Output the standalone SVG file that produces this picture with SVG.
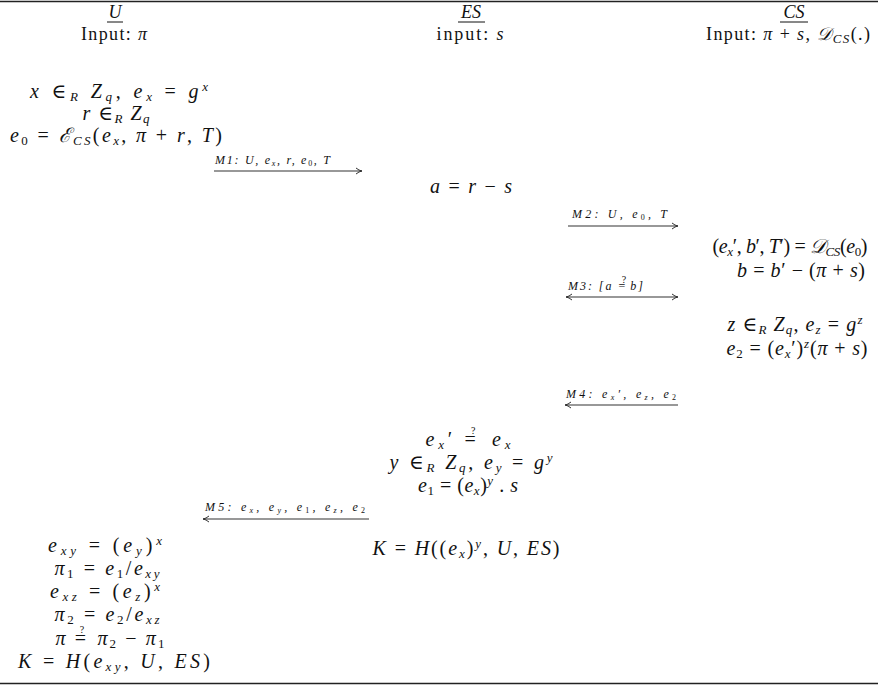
<svg xmlns="http://www.w3.org/2000/svg" width="878" height="692" viewBox="0 0 878 692">
<defs>
<style>
text { font-family: "Liberation Serif", "DejaVu Serif", serif; fill: #111; }
.m { font-size: 20px; font-style: italic; text-anchor: middle; }
.h { font-size: 18px; text-anchor: middle; }
.lab { font-size: 12px; font-style: italic; }
.n { font-style: normal; }
.s { font-size: 13px; }
.ss { font-size: 8px; }
.q { font-size: 10px; font-style: normal; }
.rule { stroke: #222; stroke-width: 1.6; }
.arr { stroke: #333; stroke-width: 1.2; fill: none; }
</style>
<marker id="ah" markerWidth="8" markerHeight="8" refX="7" refY="4" orient="auto" markerUnits="userSpaceOnUse">
<path d="M1,1 Q4,3.5 7,4 Q4,4.5 1,7" fill="none" stroke="#333" stroke-width="1"/>
</marker>
<marker id="ahs" markerWidth="8" markerHeight="8" refX="1" refY="4" orient="auto" markerUnits="userSpaceOnUse">
<path d="M7,1 Q4,3.5 1,4 Q4,4.5 7,7" fill="none" stroke="#333" stroke-width="1"/>
</marker>
</defs>
<rect width="878" height="692" fill="#fff"/>
<line class="rule" x1="0" y1="1.5" x2="878" y2="1.5"/>
<line class="rule" x1="0" y1="683.5" x2="878" y2="683.5"/>

<g id="hdr-U">
<text class="h" x="115" y="18" font-style="italic">U</text>
<line x1="107" y1="22" x2="123" y2="22" stroke="#111" stroke-width="1"/>
<text class="h" x="114" y="40" textLength="66" lengthAdjust="spacing">Input: <tspan font-style="italic">π</tspan></text>
</g>
<g id="hdr-ES">
<text class="h" x="471" y="18" font-style="italic">ES</text>
<line x1="458" y1="22" x2="485" y2="22" stroke="#111" stroke-width="1"/>
<text class="h" x="470" y="40" textLength="67" lengthAdjust="spacing">input: <tspan font-style="italic">s</tspan></text>
</g>
<g id="hdr-CS">
<text class="h" x="794" y="18" font-style="italic">CS</text>
<line x1="780" y1="22" x2="808" y2="22" stroke="#111" stroke-width="1"/>
<text class="h" x="788" y="40" textLength="164" lengthAdjust="spacing">Input: <tspan font-style="italic">π</tspan> + <tspan font-style="italic">s</tspan>, <tspan font-style="italic">𝒟</tspan><tspan class="s" font-style="italic" baseline-shift="-3">CS</tspan>(.)</text>
</g>

<g id="U-init">
<text class="m" x="119" y="98" textLength="178" lengthAdjust="spacing">x <tspan class="n">∈</tspan><tspan class="s" baseline-shift="-3">R</tspan> Z<tspan class="s" baseline-shift="-3">q</tspan><tspan class="n">, </tspan>e<tspan class="s" baseline-shift="-3">x</tspan> <tspan class="n">=</tspan> g<tspan class="s" baseline-shift="7">x</tspan></text>
<text class="m" x="116" y="120" textLength="67" lengthAdjust="spacing">r <tspan class="n">∈</tspan><tspan class="s" baseline-shift="-3">R</tspan> Z<tspan class="s" baseline-shift="-3">q</tspan></text>
<text class="m" x="116" y="142" textLength="212" lengthAdjust="spacing">e<tspan class="s n" baseline-shift="-3">0</tspan> <tspan class="n">=</tspan> ℰ<tspan class="s" baseline-shift="-3">CS</tspan><tspan class="n">(</tspan>e<tspan class="s" baseline-shift="-3">x</tspan><tspan class="n">, </tspan>π <tspan class="n">+</tspan> r<tspan class="n">, </tspan>T<tspan class="n">)</tspan></text>
</g>

<g id="ES-a">
<text class="m" x="471" y="193" textLength="82" lengthAdjust="spacing">a <tspan class="n">=</tspan> r <tspan class="n">−</tspan> s</text>
</g>

<g id="CS-dec">
<text class="m" x="790" y="253" font-size="19" textLength="155" lengthAdjust="spacing"><tspan class="n">(</tspan>e<tspan class="s" baseline-shift="-3">x</tspan><tspan class="n">′, </tspan>b<tspan class="n">′, </tspan>T<tspan class="n">′) = </tspan>𝒟<tspan class="s" baseline-shift="-3">CS</tspan><tspan class="n">(</tspan>e<tspan class="s n" baseline-shift="-3">0</tspan><tspan class="n">)</tspan></text>
<text class="m" x="801" y="277" textLength="128" lengthAdjust="spacing">b <tspan class="n">=</tspan> b<tspan class="n">′ − (</tspan>π <tspan class="n">+</tspan> s<tspan class="n">)</tspan></text>
</g>

<g id="CS-z">
<text class="m" x="795" y="331" textLength="135" lengthAdjust="spacing">z <tspan class="n">∈</tspan><tspan class="s" baseline-shift="-3">R</tspan> Z<tspan class="s" baseline-shift="-3">q</tspan><tspan class="n">, </tspan>e<tspan class="s" baseline-shift="-3">z</tspan> <tspan class="n">=</tspan> g<tspan class="s" baseline-shift="7">z</tspan></text>
<text class="m" x="797" y="355" textLength="141" lengthAdjust="spacing">e<tspan class="s n" baseline-shift="-3">2</tspan> <tspan class="n">= (</tspan>e<tspan class="s" baseline-shift="-3">x</tspan><tspan class="n">′)</tspan><tspan class="s" baseline-shift="7">z</tspan><tspan class="n">(</tspan>π <tspan class="n">+</tspan> s<tspan class="n">)</tspan></text>
</g>

<g id="ES-check">
<text class="m" x="468" y="446" textLength="85" lengthAdjust="spacing">e<tspan class="s" baseline-shift="-3">x</tspan><tspan class="n">′ </tspan><tspan class="n">=</tspan><tspan class="q" dx="-8.5" dy="-12">?</tspan><tspan dx="4" dy="12"> e</tspan><tspan class="s" baseline-shift="-3">x</tspan></text>
<text class="m" x="471" y="469" textLength="163" lengthAdjust="spacing">y <tspan class="n">∈</tspan><tspan class="s" baseline-shift="-3">R</tspan> Z<tspan class="s" baseline-shift="-3">q</tspan><tspan class="n">, </tspan>e<tspan class="s" baseline-shift="-3">y</tspan> <tspan class="n">=</tspan> g<tspan class="s" baseline-shift="7">y</tspan></text>
<text class="m" x="468" y="492" textLength="100" lengthAdjust="spacing">e<tspan class="s n" baseline-shift="-3">1</tspan> <tspan class="n">= (</tspan>e<tspan class="s" baseline-shift="-3">x</tspan><tspan class="n">)</tspan><tspan class="s" baseline-shift="7">y</tspan><tspan class="n"> . </tspan>s</text>
</g>

<g id="ES-key">
<text class="m" x="466" y="555" textLength="187" lengthAdjust="spacing">K <tspan class="n">=</tspan> H<tspan class="n">((</tspan>e<tspan class="s" baseline-shift="-3">x</tspan><tspan class="n">)</tspan><tspan class="s" baseline-shift="7">y</tspan><tspan class="n">, </tspan>U<tspan class="n">, </tspan>ES<tspan class="n">)</tspan></text>
</g>

<g id="U-final">
<text class="m" x="105" y="552" textLength="114" lengthAdjust="spacing">e<tspan class="s" baseline-shift="-3">xy</tspan> <tspan class="n">= (</tspan>e<tspan class="s" baseline-shift="-3">y</tspan><tspan class="n">)</tspan><tspan class="s" baseline-shift="7">x</tspan></text>
<text class="m" x="107" y="575" textLength="105" lengthAdjust="spacing">π<tspan class="s n" baseline-shift="-3">1</tspan> <tspan class="n">=</tspan> e<tspan class="s n" baseline-shift="-3">1</tspan><tspan class="n">/</tspan>e<tspan class="s" baseline-shift="-3">xy</tspan></text>
<text class="m" x="105" y="598" textLength="110" lengthAdjust="spacing">e<tspan class="s" baseline-shift="-3">xz</tspan> <tspan class="n">= (</tspan>e<tspan class="s" baseline-shift="-3">z</tspan><tspan class="n">)</tspan><tspan class="s" baseline-shift="7">x</tspan></text>
<text class="m" x="107" y="621" textLength="105" lengthAdjust="spacing">π<tspan class="s n" baseline-shift="-3">2</tspan> <tspan class="n">=</tspan> e<tspan class="s n" baseline-shift="-3">2</tspan><tspan class="n">/</tspan>e<tspan class="s" baseline-shift="-3">xz</tspan></text>
<text class="m" x="110" y="645" textLength="109" lengthAdjust="spacing">π <tspan class="n">=</tspan><tspan class="q" dx="-8.5" dy="-12">?</tspan><tspan dx="4" dy="12"> π</tspan><tspan class="s n" baseline-shift="-3">2</tspan> <tspan class="n">−</tspan> π<tspan class="s n" baseline-shift="-3">1</tspan></text>
<text class="m" x="114" y="668" textLength="192" lengthAdjust="spacing">K <tspan class="n">=</tspan> H<tspan class="n">(</tspan>e<tspan class="s" baseline-shift="-3">xy</tspan><tspan class="n">, </tspan>U<tspan class="n">, </tspan>ES<tspan class="n">)</tspan></text>
</g>

<g id="connectors">
<g id="M1">
<text class="lab" x="215" y="164" textLength="115" lengthAdjust="spacing">M1: U, e<tspan class="ss" baseline-shift="-2">x</tspan>, r, e<tspan class="ss n" baseline-shift="-2">0</tspan>, T</text>
<line class="arr" x1="214" y1="171" x2="362" y2="171" marker-end="url(#ah)"/>
</g>
<g id="M2">
<text class="lab" x="572" y="218" textLength="95" lengthAdjust="spacing">M2: U, e<tspan class="ss n" baseline-shift="-2">0</tspan>, T</text>
<line class="arr" x1="568" y1="226" x2="678" y2="226" marker-end="url(#ah)"/>
</g>
<g id="M3">
<text class="lab" x="568" y="290" textLength="75" lengthAdjust="spacing">M3: [a <tspan class="n">=</tspan><tspan class="q" font-size="7" dx="-5.5" dy="-7">?</tspan><tspan dx="2.3" dy="7">b]</tspan></text>
<line class="arr" x1="566" y1="297" x2="678" y2="297" marker-start="url(#ahs)" marker-end="url(#ah)"/>
</g>
<g id="M4">
<text class="lab" x="566" y="398" textLength="110" lengthAdjust="spacing">M4: e<tspan class="ss" baseline-shift="-2">x</tspan>′, e<tspan class="ss" baseline-shift="-2">z</tspan>, e<tspan class="ss n" baseline-shift="-2">2</tspan></text>
<line class="arr" x1="565" y1="405" x2="678" y2="405" marker-start="url(#ahs)"/>
</g>
<g id="M5">
<text class="lab" x="205" y="511" textLength="160" lengthAdjust="spacing">M5: e<tspan class="ss" baseline-shift="-2">x</tspan>, e<tspan class="ss" baseline-shift="-2">y</tspan>, e<tspan class="ss n" baseline-shift="-2">1</tspan>, e<tspan class="ss" baseline-shift="-2">z</tspan>, e<tspan class="ss n" baseline-shift="-2">2</tspan></text>
<line class="arr" x1="203" y1="519" x2="369" y2="519" marker-start="url(#ahs)"/>
</g>
</g>
</svg>
